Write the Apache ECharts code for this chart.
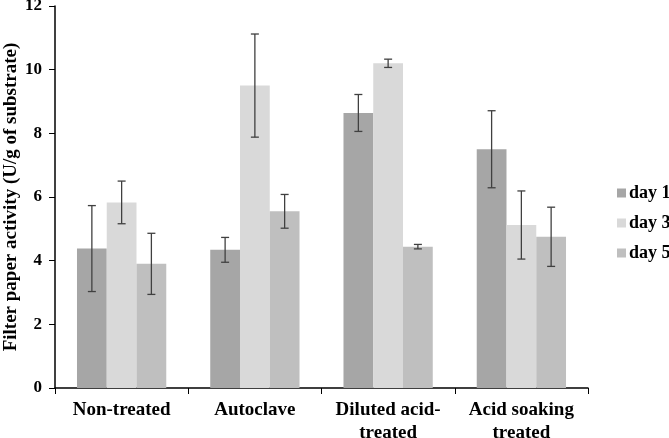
<!DOCTYPE html>
<html>
<head>
<meta charset="utf-8">
<script src="https://cdn.jsdelivr.net/npm/echarts@6/dist/echarts.min.js"></script>
<style>
html,body{margin:0;padding:0;background:#fff;}
#chart{width:669px;height:438px;}
</style>
</head>
<body>
<div id="chart"></div>
<script>
const categories = ['Non-treated', 'Autoclave', 'Diluted acid-\ntreated', 'Acid soaking\ntreated'];
const seriesNames = ['day 1', 'day 3', 'day 5'];
const day1 = [4.38, 4.34, 8.64, 7.50];
const day3 = [5.83, 9.50, 10.20, 5.12];
const day5 = [3.90, 5.55, 4.44, 4.75];
const day1Err = [1.35, 0.39, 0.58, 1.21];
const day3Err = [0.67, 1.62, 0.13, 1.07];
const day5Err = [0.96, 0.53, 0.07, 0.93];
const yTicks = [0, 2, 4, 6, 8, 10, 12];

const values = [day1, day3, day5];
const errors = [day1Err, day3Err, day5Err];
const colors = ['#a6a6a6', '#d9d9d9', '#bfbfbf'];
const font = '"Liberation Serif", "Times New Roman", serif';
const gapFrac = 0.33;

const chart = echarts.init(document.getElementById('chart'));
const series = [];
values.forEach((vals, i) => {
  series.push({
    name: seriesNames[i], type: 'bar', data: vals,
    barGap: '0%', barCategoryGap: '33%',
    itemStyle: { color: colors[i] }, emphasis: { disabled: true }
  });
});
values.forEach((vals, i) => {
  series.push({
    type: 'custom', name: seriesNames[i] + ' err', z: 5,
    data: vals.map((v, k) => [k, v - errors[i][k], v + errors[i][k]]),
    renderItem: function (params, api) {
      const band = api.size([1, 0])[0];
      const bw = band * (1 - gapFrac) / 3;
      const off = (i - 1) * bw;
      const lo = api.coord([api.value(0), api.value(1)]);
      const hi = api.coord([api.value(0), api.value(2)]);
      const x = lo[0] + off;
      const cap = 4;
      const st = { stroke: '#404040', lineWidth: 1.3 };
      return { type: 'group', children: [
        { type: 'line', shape: { x1: x, y1: lo[1], x2: x, y2: hi[1] }, style: st },
        { type: 'line', shape: { x1: x - cap, y1: lo[1], x2: x + cap, y2: lo[1] }, style: st },
        { type: 'line', shape: { x1: x - cap, y1: hi[1], x2: x + cap, y2: hi[1] }, style: st }
      ]};
    },
    tooltip: { show: false }
  });
});

chart.setOption({
  animation: false,
  grid: { left: 55, right: 81, top: 6, bottom: 50, containLabel: false, outerBoundsMode: 'none' },
  legend: {
    data: seriesNames, orient: 'vertical', left: 612, top: 179,
    itemWidth: 9, itemHeight: 9, itemGap: 12, icon: 'rect',
    textStyle: { fontFamily: font, fontWeight: 'bold', fontSize: 18, color: '#000', padding: [0,0,0,-2] }
  },
  xAxis: {
    type: 'category', data: categories,
    axisLine: { lineStyle: { color: '#000', width: 1.5 } },
    axisTick: { show: true, length: 6, lineStyle: { color: '#000' } },
    axisLabel: { fontFamily: font, fontWeight: 'bold', fontSize: 19, color: '#000', margin: 11, lineHeight: 23, interval: 0 }
  },
  yAxis: {
    type: 'value', min: yTicks[0], max: yTicks[yTicks.length - 1], interval: 2,
    name: 'Filter paper activity (U/g of substrate)', nameLocation: 'middle', nameGap: 34, nameRotate: 90,
    nameMoveOverlap: false,
    nameTextStyle: { fontFamily: font, fontWeight: 'bold', fontSize: 19, color: '#000' },
    axisLine: { show: true, lineStyle: { color: '#000', width: 1.5 } },
    axisTick: { show: true, length: 6, lineStyle: { color: '#000' } },
    splitLine: { show: false },
    axisLabel: { fontFamily: font, fontWeight: 'bold', fontSize: 17, color: '#000', margin: 13 }
  },
  series: series
});
</script>
</body>
</html>
